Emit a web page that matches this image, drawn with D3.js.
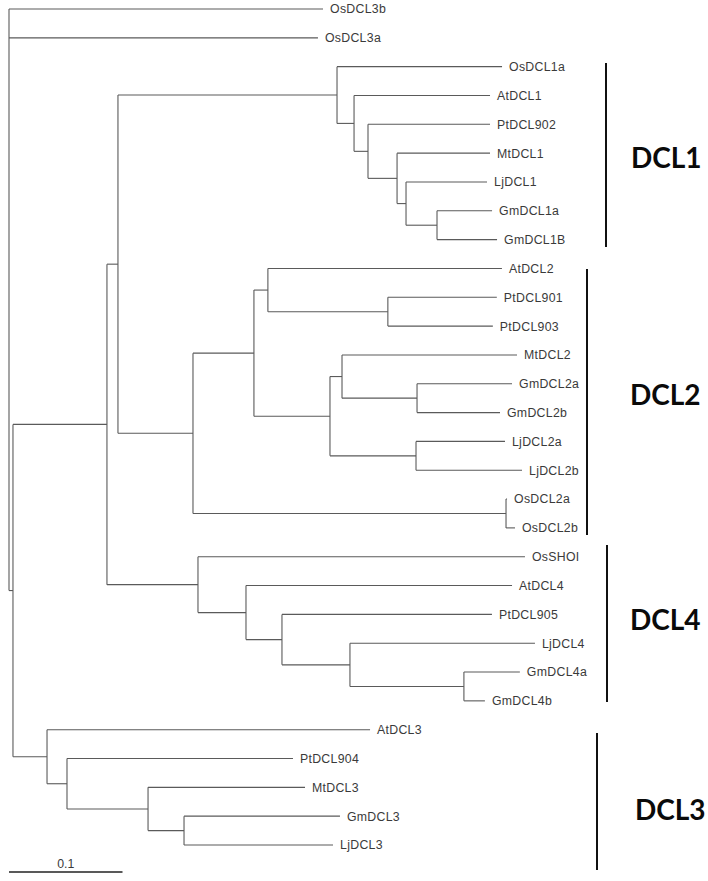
<!DOCTYPE html>
<html>
<head>
<meta charset="utf-8">
<script src="https://cdn.jsdelivr.net/npm/d3@7/dist/d3.min.js"></script>
<style>
  html, body { margin: 0; padding: 0; background: #fff; }
  svg { display: block; }
</style>
</head>
<body>
<svg id="chart" width="708" height="881"></svg>
<script>
// ---------------- DATA ----------------
// Tree topology (preorder) with branch lengths (substitutions per site)
const nodeIds = [
  "R","OsDCL3b","OsDCL3a","N1","N2","N3",
  "C1","OsDCL1a","D1a","AtDCL1","D1b","PtDCL902","D1c","MtDCL1","D1d","LjDCL1","D1e","GmDCL1a","GmDCL1B",
  "C2","D2a","D2b","AtDCL2","D2c","PtDCL901","PtDCL903","D2d","D2e","MtDCL2","D2f","GmDCL2a","GmDCL2b","D2g","LjDCL2a","LjDCL2b","D2h","OsDCL2a","OsDCL2b",
  "C4","OsSHOI","D4a","AtDCL4","D4b","PtDCL905","D4c","LjDCL4","D4d","GmDCL4a","GmDCL4b",
  "C3","AtDCL3","D3a","PtDCL904","D3b","MtDCL3","D3c","GmDCL3","LjDCL3"
];
const parentIds = [
  "","R","R","R","N1","N2",
  "N3","C1","C1","D1a","D1a","D1b","D1b","D1c","D1c","D1d","D1d","D1e","D1e",
  "N3","C2","D2a","D2b","D2b","D2c","D2c","D2a","D2d","D2e","D2e","D2f","D2f","D2d","D2g","D2g","C2","D2h","D2h",
  "N2","C4","C4","D4a","D4a","D4b","D4b","D4c","D4c","D4d","D4d",
  "N1","C3","C3","D3a","D3a","D3b","D3b","D3c","D3c"
];
const branchLengths = [
  0, 0.2767, 0.2722, 0.0035, 0.0828, 0.0097,
  0.1930, 0.1454, 0.0150, 0.1198, 0.0123, 0.1075, 0.0256, 0.0819, 0.0079, 0.0714, 0.0273, 0.0485, 0.0529,
  0.0661, 0.0537, 0.0123, 0.2062, 0.1057, 0.0960, 0.0925, 0.0670, 0.0106, 0.1542, 0.0661, 0.0837, 0.0731, 0.0758, 0.0784, 0.0934, 0.2758, 0.0009, 0.0079,
  0.0802, 0.2881, 0.0423, 0.2344, 0.0317, 0.1850, 0.0599, 0.1630, 0.1004, 0.0493, 0.0185,
  0.0300, 0.2846, 0.0176, 0.1991, 0.0714, 0.1383, 0.0317, 0.1374, 0.1313
];
// Clade annotations
const cladeNames = ["DCL1", "DCL2", "DCL4", "DCL3"];
const scaleBarValue = 0.1;
const scaleBarLabel = "0.1";

// ---------------- LAYOUT / STYLE ----------------
const cladeBars = [ // pixel layout for brackets & labels
  {x: 606, y0: 63,  y1: 247, lx: 631, ly: 158},
  {x: 587, y0: 269, y1: 535, lx: 630, ly: 395},
  {x: 607, y0: 545, y1: 702, lx: 630, ly: 620},
  {x: 597, y0: 733, y1: 870, lx: 635, ly: 810}
];
const lineColor = "#5a5a5a";
const textColor = "#3a3a3a";

const svg = d3.select("#chart");

const table = nodeIds.map((id, i) => ({id, parent: parentIds[i] || null, len: branchLengths[i]}));
const root = d3.stratify().id(d => d.id).parentId(d => d.parent)(table);

// cumulative distance from root
root.eachBefore(n => { n.dist = n.parent ? n.parent.dist + n.data.len : 0; });

const leaves = root.leaves();
const yScale = d3.scalePoint().domain(leaves.map(d => d.id)).range([9, 845]);
const xScale = d3.scaleLinear().domain([0, 0.1]).range([9, 122.5]);

root.eachAfter(n => {
  if (!n.children) n.y = yScale(n.id);
  else n.y = (n.children[0].y + n.children[n.children.length - 1].y) / 2;
  n.x = xScale(n.dist);
});

const g = svg.append("g");

// horizontal branches
g.selectAll("line.h").data(root.descendants().filter(d => d.parent))
  .join("line").attr("class", "h")
  .attr("x1", d => d.parent.x).attr("x2", d => d.x)
  .attr("y1", d => d.y).attr("y2", d => d.y)
  .attr("stroke", lineColor).attr("stroke-width", 1.1);

// vertical connectors
g.selectAll("line.v").data(root.descendants().filter(d => d.children))
  .join("line").attr("class", "v")
  .attr("x1", d => d.x).attr("x2", d => d.x)
  .attr("y1", d => d.children[0].y).attr("y2", d => d.children[d.children.length - 1].y)
  .attr("stroke", lineColor).attr("stroke-width", 1.1);

// leaf labels
g.selectAll("text.leaf").data(leaves)
  .join("text").attr("class", "leaf")
  .attr("x", d => d.x + 7).attr("y", d => d.y)
  .attr("dy", "0.36em")
  .attr("font-family", "'Liberation Sans', Arial, sans-serif")
  .attr("font-size", 12.3)
  .attr("letter-spacing", 0.3)
  .attr("fill", textColor)
  .text(d => d.id);

// clade brackets and labels
cladeNames.forEach((name, i) => {
  const c = cladeBars[i];
  svg.append("line")
    .attr("x1", c.x).attr("x2", c.x).attr("y1", c.y0).attr("y2", c.y1)
    .attr("stroke", "#111").attr("stroke-width", 2);
  svg.append("text")
    .attr("x", c.lx).attr("y", c.ly).attr("dy", "0.35em")
    .attr("font-family", "Lato, 'Open Sans', sans-serif")
    .attr("font-weight", "bold")
    .attr("font-size", 28)
    .attr("fill", "#0a0a0a")
    .text(name);
});

// scale bar
const sbY = 872;
svg.append("line")
  .attr("x1", xScale(0)).attr("x2", xScale(scaleBarValue))
  .attr("y1", sbY).attr("y2", sbY)
  .attr("stroke", "#222").attr("stroke-width", 1.5);
svg.append("text")
  .attr("x", (xScale(0) + xScale(scaleBarValue)) / 2).attr("y", sbY - 4)
  .attr("text-anchor", "middle")
  .attr("font-family", "'Liberation Sans', Arial, sans-serif")
  .attr("font-size", 12.3)
  .attr("fill", textColor)
  .text(scaleBarLabel);
</script>
</body>
</html>
